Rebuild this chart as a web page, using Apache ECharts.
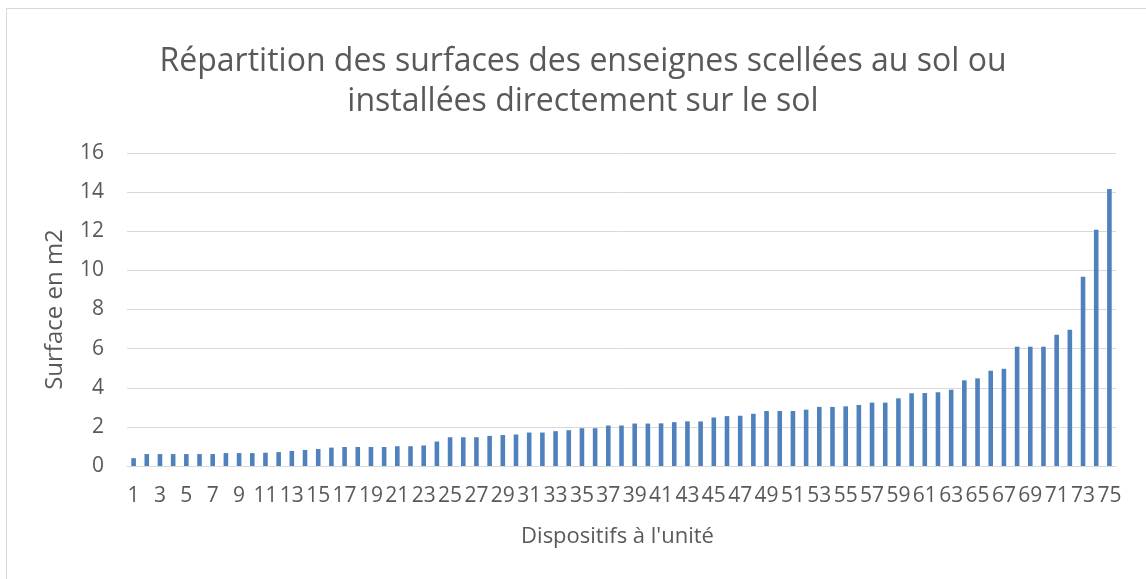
<!DOCTYPE html>
<html>
<head>
<meta charset="utf-8">
<script src="https://cdn.jsdelivr.net/npm/echarts@6/dist/echarts.min.js"></script>
<style>
html,body{margin:0;padding:0;background:#fff;}
#frame{position:absolute;left:6px;top:8px;width:1140px;height:571px;border-left:1px solid #d9d9d9;border-top:1px solid #d9d9d9;box-sizing:border-box;}
#chart{position:absolute;left:0;top:0;width:1146px;height:579px;}
</style>
</head>
<body>
<div id="frame"></div>
<div id="chart"></div>
<script>
const categories = [];
for (let i = 1; i <= 75; i++) categories.push(String(i));
const surfaces = [
  0.40, 0.61, 0.61, 0.61, 0.61, 0.61, 0.61, 0.66, 0.66, 0.66,
  0.68, 0.71, 0.77, 0.82, 0.87, 0.94, 0.97, 0.97, 0.97, 0.97,
  1.01, 1.01, 1.05, 1.25, 1.47, 1.47, 1.47, 1.54, 1.58, 1.61,
  1.71, 1.71, 1.78, 1.83, 1.93, 1.93, 2.07, 2.07, 2.17, 2.17,
  2.18, 2.24, 2.28, 2.28, 2.48, 2.55, 2.57, 2.67, 2.81, 2.81,
  2.81, 2.88, 3.02, 3.02, 3.05, 3.12, 3.24, 3.24, 3.46, 3.72,
  3.73, 3.77, 3.90, 4.38, 4.48, 4.87, 4.97, 6.10, 6.10, 6.10,
  6.71, 6.97, 9.68, 12.08, 14.16
];
const titleText = "Répartition des surfaces des enseignes scellées au sol ou\ninstallées directement sur le sol";
const yName = "Surface en m2";
const xName = "Dispositifs à l'unité";

const chart = echarts.init(document.getElementById('chart'), null, {renderer: 'canvas'});
const font = "'Open Sans', 'DejaVu Sans', sans-serif";
chart.setOption({
  animation: false,
  title: {
    text: titleText,
    left: 578,
    top: 37,
    textAlign: 'center',
    textStyle: {fontFamily: font, fontSize: 32, fontWeight: 'normal', color: '#595959', lineHeight: 40}
  },
  grid: {left: 127, right: 30, top: 153, bottom: 113, containLabel: false},
  xAxis: {
    type: 'category',
    data: categories,
    name: xName,
    nameLocation: 'middle',
    nameGap: 60,
    nameTextStyle: {fontFamily: font, fontSize: 22, color: '#595959', padding: [0, 8, 0, 0]},
    axisLine: {lineStyle: {color: '#d9d9d9', width: 1}},
    axisTick: {show: false},
    axisLabel: {interval: 1, fontFamily: font, fontSize: 21, color: '#595959', margin: 20}
  },
  yAxis: {
    type: 'value',
    min: 0, max: 16, interval: 2,
    name: yName,
    nameLocation: 'middle',
    nameGap: 60,
    nameTextStyle: {fontFamily: font, fontSize: 24, color: '#595959'},
    axisLine: {show: false},
    axisTick: {show: false},
    splitLine: {lineStyle: {color: '#d9d9d9', width: 1}},
    axisLabel: {fontFamily: font, fontSize: 21, color: '#595959', margin: 23}
  },
  series: [{
    type: 'bar',
    data: surfaces,
    barWidth: 4.6,
    itemStyle: {color: '#4F81BD'}
  }]
});
</script>
</body>
</html>
